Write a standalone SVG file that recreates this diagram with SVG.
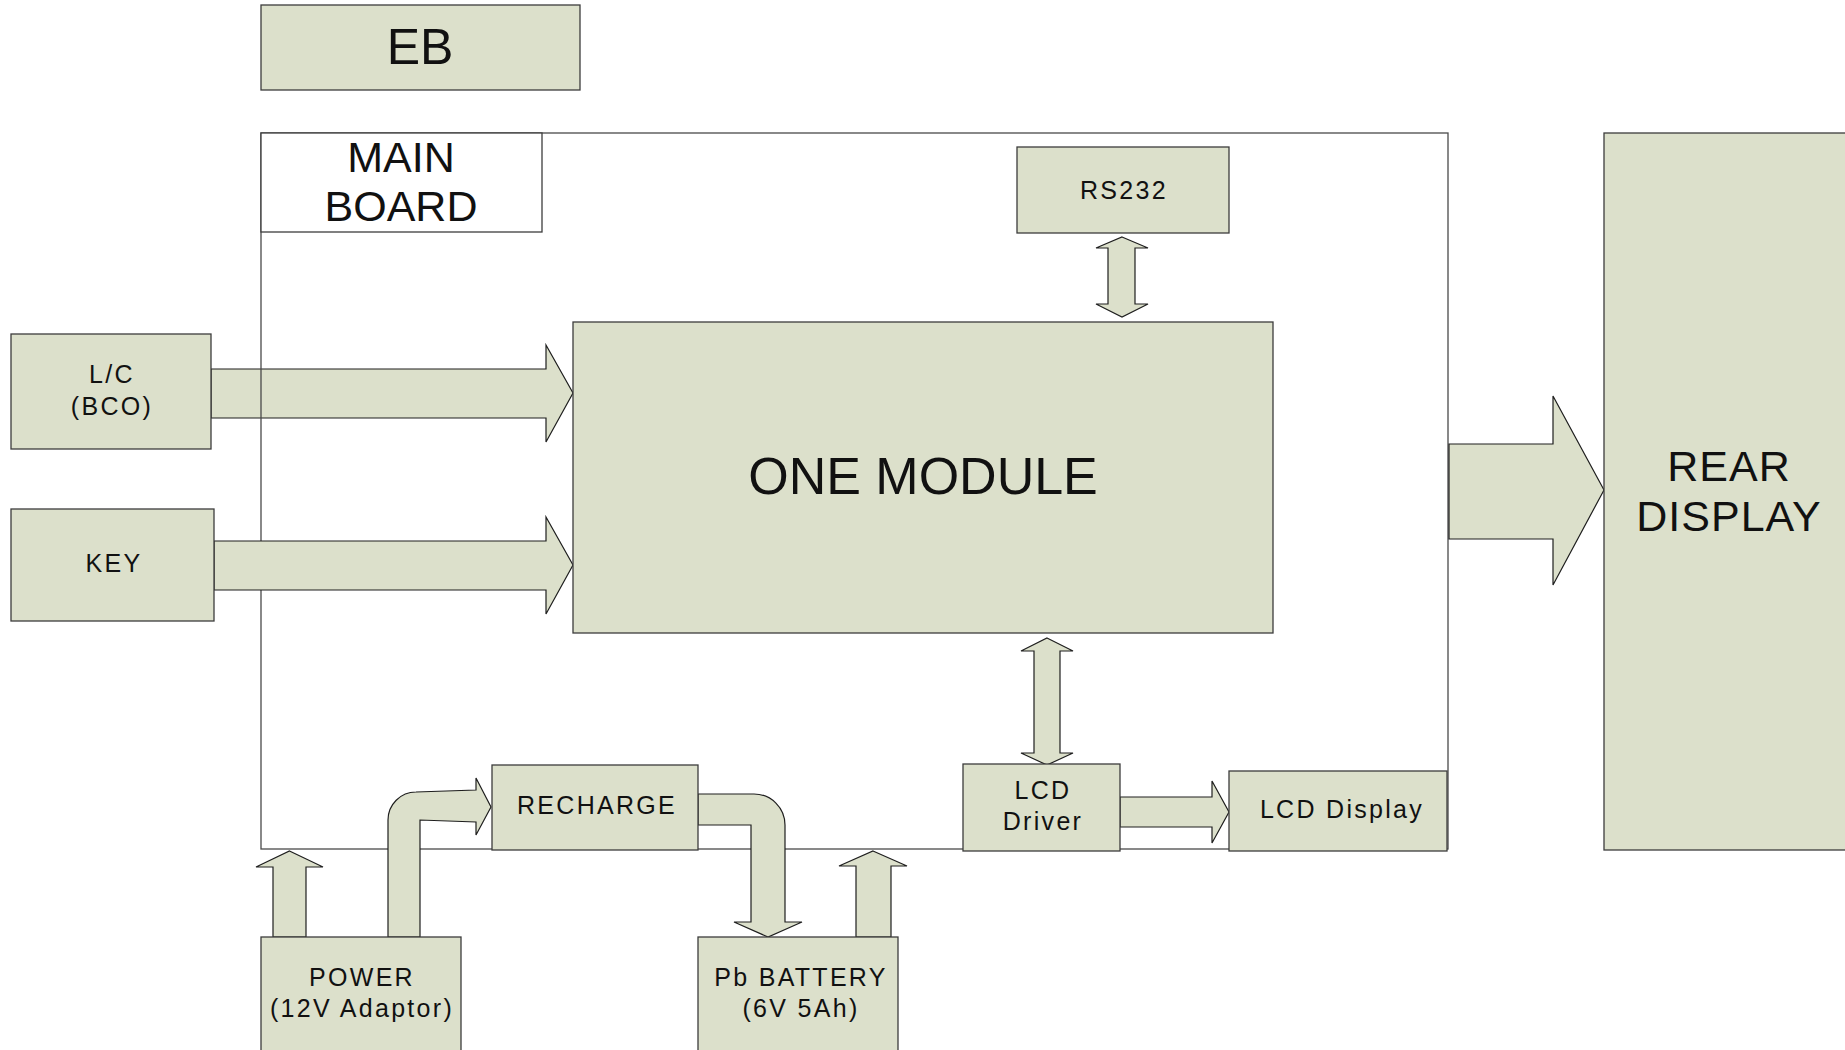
<svg xmlns="http://www.w3.org/2000/svg" width="1845" height="1050" viewBox="0 0 1845 1050">
  <style>
    .box { fill: #dce0cb; stroke: #3c3c3c; stroke-width: 1.3; }
    .frame { fill: none; stroke: #4a4a4a; stroke-width: 1.3; }
    .label { fill: #ffffff; stroke: #3c3c3c; stroke-width: 1.3; }
    .arrow { fill: #dce0cb; stroke: #1e1e1e; stroke-width: 1.2; stroke-linejoin: miter; }
    text { font-family: "Liberation Sans", Arial, sans-serif; fill: #111111; text-anchor: middle; }
    .sm { font-size: 25px; letter-spacing: 2.3px; }
    .lg { font-size: 43px; }
  </style>

  <rect width="1845" height="1050" fill="#ffffff"/>

  <!-- input arrow from L/C sits under the main board outline -->
  <g id="connectors-under">
    <path class="arrow" d="M211,369 H546 V345 L573,393 L546,442 V418 H211 Z"/>
  </g>

  <!-- main board outline and its title tab -->
  <g id="main-board">
    <rect class="frame" x="261" y="133" width="1187" height="716"/>
    <rect class="label" x="261" y="133" width="281" height="99"/>
    <text class="lg" x="401" y="172">MAIN</text>
    <text class="lg" x="401" y="221">BOARD</text>
  </g>

  <g id="connectors">
    <!-- KEY -> module -->
    <path class="arrow" d="M214,541 H546 V517 L573,565 L546,614 V590 H214 Z"/>
    <!-- RS232 <-> module -->
    <path class="arrow" d="M1122,237 L1148,248 H1135 V304 H1148 L1122,317 L1096,304 H1108 V248 H1096 Z"/>
    <!-- module <-> LCD driver -->
    <path class="arrow" d="M1047,638 L1073,651 H1060 V753 H1073 L1047,765 L1021,753 H1034 V651 H1021 Z"/>
    <!-- main board -> rear display -->
    <path class="arrow" d="M1449,444 H1553 V396 L1604,490 L1553,585 V539 H1449 Z"/>
    <!-- LCD driver -> LCD display -->
    <path class="arrow" d="M1120,797 H1212 V781 L1229,812 L1212,843 V827 H1120 Z"/>
    <!-- power -> main board -->
    <path class="arrow" d="M289.5,851 L323,867 H306 V937 H273 V867 H256 Z"/>
    <!-- battery -> main board -->
    <path class="arrow" d="M873,851 L907,866 H891 V937 H856 V866 H839 Z"/>
    <!-- power -> recharge -->
    <path class="arrow" d="M388,937 V820 A28,28 0 0 1 416,792 L476,790 V778 L491,807 L476,835 V822 L420,820 V937 Z"/>
    <!-- recharge -> battery -->
    <path class="arrow" d="M698,794 H754 A31,31 0 0 1 785,825 V922 H802 L768,937 L734,922 H751 V825 H698 Z"/>
  </g>

  <g id="eb">
    <rect class="box" x="261" y="5" width="319" height="85"/>
    <text x="420" y="64" font-size="50">EB</text>
  </g>

  <g id="rs232">
    <rect class="box" x="1017" y="147" width="212" height="86"/>
    <text class="sm" x="1124" y="199">RS232</text>
  </g>

  <g id="one-module">
    <rect class="box" x="573" y="322" width="700" height="311"/>
    <text x="923" y="494" font-size="52">ONE MODULE</text>
  </g>

  <g id="lc-bco">
    <rect class="box" x="11" y="334" width="200" height="115"/>
    <text class="sm" x="112" y="383">L/C</text>
    <text class="sm" x="112" y="415">(BCO)</text>
  </g>

  <g id="key">
    <rect class="box" x="11" y="509" width="203" height="112"/>
    <text class="sm" x="114" y="572">KEY</text>
  </g>

  <g id="rear-display">
    <rect class="box" x="1604" y="133" width="252" height="717"/>
    <text class="lg" x="1729" y="481" letter-spacing="1">REAR</text>
    <text class="lg" x="1729" y="531" letter-spacing="1">DISPLAY</text>
  </g>

  <g id="recharge">
    <rect class="box" x="492" y="765" width="206" height="85"/>
    <text class="sm" x="597" y="814">RECHARGE</text>
  </g>

  <g id="lcd-driver">
    <rect class="box" x="963" y="764" width="157" height="87"/>
    <text class="sm" x="1043" y="799">LCD</text>
    <text class="sm" x="1043" y="830">Driver</text>
  </g>

  <g id="lcd-display">
    <rect class="box" x="1229" y="771" width="218" height="80"/>
    <text class="sm" x="1342" y="818">LCD Display</text>
  </g>

  <g id="power">
    <rect class="box" x="261" y="937" width="200" height="125"/>
    <text class="sm" x="362" y="986">POWER</text>
    <text class="sm" x="362" y="1017" letter-spacing="1.6">(12V Adaptor)</text>
  </g>

  <g id="pb-battery">
    <rect class="box" x="698" y="937" width="200" height="125"/>
    <text class="sm" x="801" y="986" letter-spacing="2.9">Pb BATTERY</text>
    <text class="sm" x="801" y="1017" letter-spacing="1.9">(6V 5Ah)</text>
  </g>
</svg>
